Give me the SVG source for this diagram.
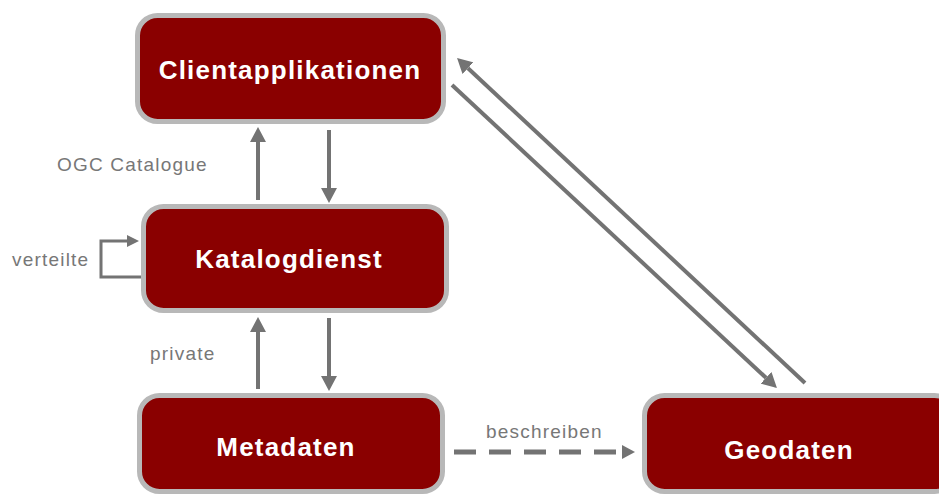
<svg xmlns="http://www.w3.org/2000/svg" width="939" height="496" viewBox="0 0 939 496">
  <style>
    .box { fill: #8a0000; stroke: #b8b8b8; stroke-width: 5; }
    .lbl { font-family: "Liberation Sans", Arial, sans-serif; font-weight: bold; font-size: 26px; fill: #ffffff; text-anchor: middle; letter-spacing: 1.2px; }
    .note { font-family: "Liberation Sans", Arial, sans-serif; font-size: 19px; fill: #777777; letter-spacing: 1.2px; }
    .con { fill: none; stroke: #737373; stroke-width: 4; }
  </style>
  <defs>
    <marker id="ah" markerUnits="userSpaceOnUse" markerWidth="16" markerHeight="16" refX="0" refY="8" orient="auto">
      <path d="M0,0 L15,8 L0,16 z" fill="#737373"/>
    </marker>
    <marker id="ahs" markerUnits="userSpaceOnUse" markerWidth="12" markerHeight="12" refX="0" refY="6" orient="auto">
      <path d="M0,0 L12,6 L0,12 z" fill="#737373"/>
    </marker>
    <marker id="ahd" markerUnits="userSpaceOnUse" markerWidth="14" markerHeight="14" refX="0" refY="7" orient="auto">
      <path d="M0,0 L13,7 L0,14 z" fill="#737373"/>
    </marker>
  </defs>
  <rect width="939" height="496" fill="#ffffff"/>

  <g id="connectors">
    <line class="con" x1="258" y1="200" x2="258" y2="142" marker-end="url(#ah)"/>
    <line class="con" x1="329" y1="130" x2="329" y2="188" marker-end="url(#ah)"/>
    <line class="con" x1="258" y1="389" x2="258" y2="332" marker-end="url(#ah)"/>
    <line class="con" x1="329" y1="318" x2="329" y2="376" marker-end="url(#ah)"/>
    <path class="con" style="stroke-width:3" d="M143 277 L101 277 L101 241 L127 241" marker-end="url(#ahs)"/>
    <line class="con" x1="805" y1="383" x2="468" y2="68.2" marker-end="url(#ah)"/>
    <line class="con" x1="452" y1="85" x2="766" y2="377.8" marker-end="url(#ah)"/>
    <line class="con" style="stroke-width:5" stroke-dasharray="22 13" x1="454" y1="452" x2="622" y2="452" marker-end="url(#ahd)"/>
  </g>

  <g id="client">
    <rect class="box" x="137.5" y="15.5" width="306" height="106" rx="20"/>
    <text class="lbl" x="290" y="79">Clientapplikationen</text>
  </g>
  <g id="katalog">
    <rect class="box" x="143.5" y="206.5" width="303" height="104" rx="20"/>
    <text class="lbl" x="289" y="268">Katalogdienst</text>
  </g>
  <g id="metadaten">
    <rect class="box" x="139.5" y="395.5" width="303" height="96" rx="20"/>
    <text class="lbl" x="286" y="456">Metadaten</text>
  </g>
  <g id="geodaten">
    <rect class="box" x="644.5" y="395.5" width="310" height="96" rx="20"/>
    <text class="lbl" x="789" y="459">Geodaten</text>
  </g>

  <g id="labels">
    <text class="note" x="57" y="171">OGC Catalogue</text>
    <text class="note" x="12" y="266">verteilte</text>
    <text class="note" x="150" y="360">private</text>
    <text class="note" x="486" y="438">beschreiben</text>
  </g>
</svg>
